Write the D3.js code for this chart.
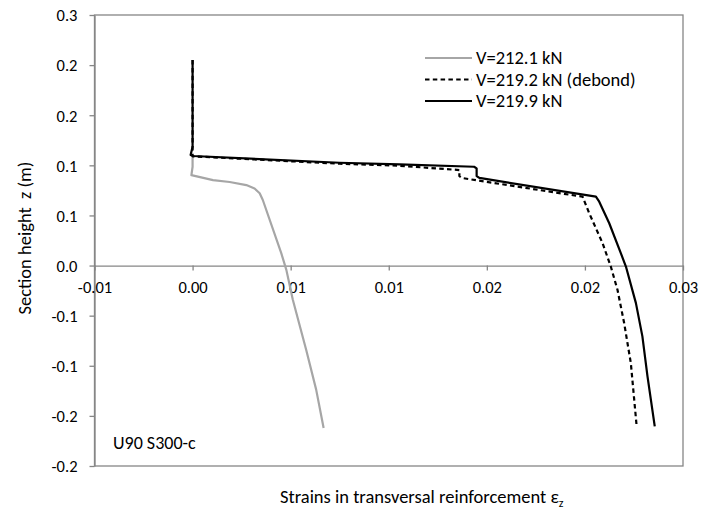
<!DOCTYPE html>
<html>
<head>
<meta charset="utf-8">
<script src="https://cdn.jsdelivr.net/npm/d3@7"></script>
<style>
  body { margin: 0; background: #fff; }
  text { font-family: Carlito, Calibri, Lato, sans-serif; fill: #000; }
</style>
</head>
<body>
<div id="chart"></div>
<script>
// strain (-) vs section height z (m)
const grayStrain = [0, 0, -0.00006, 0.00104, 0.00189, 0.00274, 0.00316, 0.00342, 0.00358, 0.00452, 0.00478, 0.00511, 0.00579, 0.0063, 0.00668];
const grayZ = [0.1086, 0.0986, 0.0903, 0.0853, 0.0834, 0.0803, 0.0769, 0.0721, 0.0654, 0.0124, -0.0043, -0.0342, -0.084, -0.1238, -0.162];

const dashStrain = [0, 0, 0, 0.0075, 0.01054, 0.0136, 0.0136, 0.01375, 0.01988, 0.02022, 0.0209, 0.02132, 0.02166, 0.022, 0.02234, 0.02263];
const dashZ = [0.205, 0.12, 0.109, 0.1016, 0.0996, 0.0953, 0.0893, 0.0873, 0.0687, 0.0522, 0.0223, -0.001, -0.0242, -0.0574, -0.0972, -0.1587];

const solidStrain = [0, 0, -0.0001, 0.00002, 0.00749, 0.01054, 0.01435, 0.01448, 0.01448, 0.01462, 0.02056, 0.02073, 0.02124, 0.02183, 0.02209, 0.0226, 0.02293, 0.02319, 0.02356];
const solidZ = [0.205, 0.1185, 0.1103, 0.1093, 0.1026, 0.101, 0.0986, 0.097, 0.0893, 0.0874, 0.0687, 0.0637, 0.0422, 0.0124, -0.001, -0.0375, -0.0707, -0.1106, -0.1604];

const seriesNames = ['V=212.1 kN', 'V=219.2 kN (debond)', 'V=219.9 kN'];

const xTicks = [-0.005, 0, 0.005, 0.01, 0.015, 0.02, 0.025];
const xTickLabels = ['-0.01', '0.00', '0.01', '0.01', '0.02', '0.02', '0.03'];
const yTicks = [0.25, 0.2, 0.15, 0.1, 0.05, 0, -0.05, -0.1, -0.15, -0.2];
const yTickLabels = ['0.3', '0.2', '0.2', '0.1', '0.1', '0.0', '-0.1', '-0.1', '-0.2', '-0.2'];

const W = 708, H = 511;
const axisColor = '#868686';

const svg = d3.select('#chart').append('svg')
    .attr('width', W)
    .attr('height', H);

const x = d3.scaleLinear().domain([-0.005, 0.025]).range([94.5, 683]);
const y = d3.scaleLinear().domain([-0.2, 0.25]).range([466, 15]);

// plot area border
svg.append('rect')
    .attr('x', x.range()[0]).attr('y', y.range()[1])
    .attr('width', x.range()[1] - x.range()[0])
    .attr('height', y.range()[0] - y.range()[1])
    .attr('fill', 'none')
    .attr('stroke', axisColor)
    .attr('stroke-width', 1.3);

// vertical axis
const yAxis = svg.append('g')
    .attr('transform', `translate(${x.range()[0]},0)`)
    .call(d3.axisLeft(y).tickValues(yTicks).tickSize(5).tickSizeOuter(0)
        .tickFormat((d, i) => yTickLabels[i]));

// horizontal axis sits on z = 0
const xAxis = svg.append('g')
    .attr('transform', `translate(0,${y(0)})`)
    .call(d3.axisBottom(x).tickValues(xTicks).tickSize(5).tickSizeOuter(0)
        .tickFormat((d, i) => xTickLabels[i]));

[yAxis, xAxis].forEach(g => {
    g.select('.domain').attr('stroke', axisColor).attr('stroke-width', 1.3);
    g.selectAll('.tick line').attr('stroke', axisColor).attr('stroke-width', 1.3);
    g.selectAll('.tick text').style('font-size', '16.5px').attr('fill', '#000');
});
yAxis.selectAll('.tick text').attr('x', -17).attr('dy', '0.35em');
xAxis.selectAll('.tick text').attr('y', 16);

const line = d3.line()
    .x(d => x(d[0]))
    .y(d => y(d[1]));

const series = [
    {name: seriesNames[0], pts: d3.zip(grayStrain, grayZ), color: '#a6a6a6', dash: null},
    {name: seriesNames[1], pts: d3.zip(dashStrain, dashZ), color: '#000', dash: '4.5,3.3'},
    {name: seriesNames[2], pts: d3.zip(solidStrain, solidZ), color: '#000', dash: null}
];

svg.append('g').selectAll('path')
    .data(series)
    .join('path')
    .attr('d', d => line(d.pts))
    .attr('fill', 'none')
    .attr('stroke', d => d.color)
    .attr('stroke-width', 2.2)
    .attr('stroke-linejoin', 'round')
    .attr('stroke-dasharray', d => d.dash);

// legend
const legend = svg.append('g').attr('transform', 'translate(425,58)');
const rows = legend.selectAll('g')
    .data(series)
    .join('g')
    .attr('transform', (d, i) => `translate(0,${i * 21.5})`);
rows.append('line')
    .attr('x1', 0).attr('x2', 47)
    .attr('stroke', d => d.color)
    .attr('stroke-width', 2.2)
    .attr('stroke-dasharray', d => d.dash);
rows.append('text')
    .attr('x', 51)
    .attr('dy', '0.35em')
    .style('font-size', '18.5px')
    .text(d => d.name);

// annotation
svg.append('text')
    .attr('x', 113).attr('y', 449)
    .style('font-size', '18px')
    .text('U90 S300-c');

// axis titles
svg.append('text')
    .attr('transform', 'translate(31,238) rotate(-90)')
    .attr('text-anchor', 'middle')
    .style('font-size', '18.5px')
    .style('white-space', 'pre')
    .text('Section height  z (m)');

const xt = svg.append('text')
    .attr('x', 280).attr('y', 503)
    .style('font-size', '18.5px');
xt.append('tspan').text('Strains in transversal reinforcement ε');
xt.append('tspan').attr('dy', 4).style('font-size', '12px').text('z');
</script>
</body>
</html>
